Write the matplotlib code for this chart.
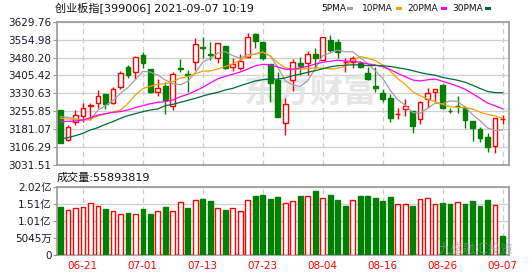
import numpy as np
import pandas as pd
import matplotlib.pyplot as plt
from matplotlib.patches import Rectangle

plt.rcParams['font.family'] = ['DejaVu Sans', 'Noto Sans CJK SC']

# 交易日 2021-06-16 .. 2021-09-07
dates = pd.bdate_range("2021-06-16", "2021-09-07").strftime("%m-%d").tolist()

opens = [3261.1, 3134.6, 3212.3, 3237.3, 3276.6, 3291.6, 3326.7, 3291.6, 3358.4, 3441.9,
         3421.0, 3490.7, 3432.3, 3335.0, 3361.3, 3279.1, 3435.2, 3411.4, 3462.8, 3526.0,
         3497.0, 3479.5, 3528.3, 3441.9, 3435.2, 3483.6, 3577.2, 3546.3, 3451.9, 3386.4,
         3205.6, 3386.4, 3456.1, 3456.1, 3493.6, 3469.8, 3553.4, 3543.8, 3462.0, 3462.8,
         3456.1, 3417.0, 3362.6, 3330.8, 3312.5, 3244.4, 3265.3, 3257.0, 3223.5, 3305.8,
         3335.0, 3365.5, 3259.0, 3278.6, 3270.7, 3215.2, 3181.8, 3148.4, 3109.6, 3224.0]
highs = [3262.0, 3198.5, 3261.1, 3289.1, 3289.1, 3344.6, 3328.0, 3358.4, 3423.9, 3449.0,
         3487.8, 3504.5, 3434.0, 3389.3, 3379.3, 3421.0, 3472.8, 3428.1, 3560.4, 3567.1,
         3546.3, 3540.8, 3530.0, 3476.9, 3493.6, 3581.3, 3581.3, 3547.0, 3453.0, 3421.0,
         3309.9, 3472.8, 3483.6, 3507.4, 3521.2, 3567.1, 3574.2, 3556.3, 3476.9, 3487.0,
         3465.7, 3441.9, 3441.9, 3348.8, 3326.7, 3268.2, 3305.8, 3259.0, 3298.7, 3354.2,
         3347.5, 3368.4, 3268.2, 3319.6, 3277.8, 3215.2, 3191.4, 3165.1, 3229.0, 3240.2]
lows = [3122.0, 3131.7, 3198.5, 3212.3, 3219.0, 3270.7, 3264.0, 3284.9, 3348.8, 3396.0,
        3390.5, 3437.7, 3333.0, 3320.8, 3243.0, 3261.1, 3421.0, 3337.5, 3428.1, 3476.9,
        3469.8, 3458.6, 3434.0, 3423.9, 3428.1, 3476.9, 3518.7, 3469.8, 3295.8, 3233.0,
        3156.7, 3340.4, 3407.2, 3407.2, 3435.2, 3467.8, 3502.0, 3476.9, 3418.5, 3435.0,
        3436.0, 3386.4, 3335.0, 3293.2, 3212.3, 3222.3, 3236.0, 3163.8, 3203.9, 3270.7,
        3295.8, 3266.5, 3249.8, 3249.8, 3184.7, 3131.7, 3128.8, 3087.0, 3082.8, 3203.9]
closes = [3124.6, 3190.2, 3240.2, 3268.2, 3282.0, 3319.6, 3284.9, 3348.8, 3414.3, 3407.2,
          3482.4, 3458.6, 3335.0, 3351.7, 3302.9, 3410.2, 3432.3, 3406.0, 3535.4, 3519.9,
          3490.7, 3539.6, 3437.7, 3451.9, 3465.7, 3567.1, 3549.2, 3476.9, 3372.6, 3233.1,
          3284.9, 3460.3, 3446.1, 3493.6, 3479.5, 3564.6, 3511.6, 3504.5, 3463.0, 3476.9,
          3441.9, 3390.5, 3351.7, 3305.8, 3226.5, 3246.5, 3277.8, 3195.6, 3293.2, 3330.8,
          3347.5, 3268.2, 3257.3, 3277.0, 3218.1, 3187.2, 3142.9, 3105.4, 3226.5, 3225.0]
# 成交量 (万)
volumes = [14200, 13320, 13810, 14200, 15290, 14490, 13610, 13020, 12140, 12440,
           12140, 13610, 12240, 12930, 14200, 12930, 15670, 13900, 16170, 16550,
           15960, 13810, 13320, 13810, 12930, 16170, 17430, 17730, 16550, 17140,
           15290, 15880, 17430, 17430, 18900, 16760, 17730, 16260, 14490, 16170,
           17430, 17430, 16840, 15960, 17140, 14990, 14990, 14490, 16460, 16760,
           14990, 15380, 15080, 15580, 15080, 15960, 14490, 16260, 14790, 5589]

# 均线起始段 (窗口之前的数据不在图内, 直接读图)
ma5_head = [3233.3, 3230.5, 3223.5, 3219.3]
ma10_head = [3226.3, 3223.5, 3222.1, 3219.3, 3222.0, 3236.0, 3245.0, 3252.0, 3261.1]
ma20_head = [3212.4, 3213.8, 3215.2, 3219.3, 3229.1, 3240.2, 3245.8, 3251.3, 3254.1, 3261.1,
             3270.8, 3279.2, 3287.5, 3293.1, 3295.9, 3302.8, 3316.8, 3326.5, 3340.4]
ma30_head = [3140.0, 3145.6, 3153.9, 3163.7, 3177.6, 3187.3, 3201.2, 3212.4, 3226.3, 3237.4,
             3245.8, 3254.1, 3261.1, 3265.3, 3279.2, 3284.7, 3293.1, 3301.4, 3309.8, 3319.5,
             3327.9, 3334.8, 3344.6, 3351.5, 3362.7, 3372.4, 3382.2, 3387.7, 3390.5]

price_ticks = [3031.51, 3106.29, 3181.07, 3255.85, 3330.63, 3405.42, 3480.20, 3554.98, 3629.76]
vol_ticks = [0, 5045, 10090, 15135, 20180]
vol_labels = ["0", "5045万", "1.01亿", "1.51亿", "2.02亿"]
label_idx = [3, 11, 19, 27, 35, 43, 51, 59]

RED = "#ff0000"
GREEN = "#008000"
ma_colors = ["#a0a0a0", "#f5a000", "#ff00ff", "#006a36"]
ma_names = ["5PMA", "10PMA", "20PMA", "30PMA"]

o = np.array(opens); h = np.array(highs); l = np.array(lows); c = np.array(closes)
n = len(c)
x = np.arange(n)

def moving(head, win):
    s = pd.Series(c).rolling(win).mean().to_numpy()
    s[:len(head)] = head
    return s

mas = [moving(ma5_head, 5), moving(ma10_head, 10), moving(ma20_head, 20), moving(ma30_head, 30)]

W, H = 530, 276
fig = plt.figure(figsize=(W / 100, H / 100), dpi=100)
ax = fig.add_axes([57 / W, 1 - 165 / H, 452 / W, 143.3 / H])
axv = fig.add_axes([57 / W, 1 - 255.3 / H, 452 / W, 68.6 / H])

bw = 0.62
for i in range(n):
    up = c[i] >= o[i]
    col = RED if up else GREEN
    top, bot = max(o[i], c[i]), min(o[i], c[i])
    ax.plot([i, i], [top, h[i]], color=col, lw=1.0, zorder=2, solid_capstyle="butt")
    ax.plot([i, i], [l[i], bot], color=col, lw=1.0, zorder=2, solid_capstyle="butt")
    hgt = max(top - bot, 0.8)
    ax.add_patch(Rectangle((i - bw / 2, bot), bw, hgt, facecolor="white" if up else col,
                           edgecolor=col, lw=1.0, zorder=3))
    # 量柱颜色按与前一日收盘比较
    vup = up if i == 0 else c[i] >= c[i - 1]
    vcol = RED if vup else GREEN
    axv.add_patch(Rectangle((i - bw / 2, 0), bw, volumes[i], facecolor="white" if vup else vcol,
                            edgecolor=vcol, lw=1.0, zorder=3))

for m, col in zip(mas, ma_colors):
    ax.plot(x, m, color=col, lw=0.9, zorder=4)

ax.text(0.56, 0.5, "东方财富", transform=ax.transAxes, fontsize=24, color="#e6e6e6",
        ha="center", va="center", fontweight="bold", zorder=1,
        family=["Noto Sans CJK SC"])

for a in (ax, axv):
    a.set_xlim(-0.45, 59.85)
    for s in a.spines.values():
        s.set_color("#999999")
        s.set_linewidth(1.2)
    a.set_axisbelow(True)
    for xi in label_idx:
        a.axvline(xi, color="#cccccc", lw=0.9, ls=(0, (4, 3)), zorder=0)
    a.tick_params(axis="y", length=3, width=0.8, color="#999999", labelsize=7.5,
                  labelcolor="#1a1a2a", pad=1)

ax.set_ylim(price_ticks[0], price_ticks[-1])
ax.set_yticks(price_ticks)
ax.set_yticklabels([f"{v:.2f}" for v in price_ticks])
ax.grid(axis="y", color="#d0d0d0", lw=0.9)
ax.set_xticks([])

axv.set_ylim(0, vol_ticks[-1])
axv.set_yticks(vol_ticks)
axv.set_yticklabels(vol_labels)
axv.grid(axis="y", color="#d0d0d0", lw=0.9)
axv.set_xticks(label_idx)
axv.set_xticklabels([dates[i] for i in label_idx], color=RED, fontsize=7.5)
axv.tick_params(axis="x", length=0, pad=4)

fig.text(55 / W, 1 - 8 / H, "创业板指[399006] 2021-09-07 10:19", fontsize=8,
         va="center", ha="left", color="#111111")
fig.text(57 / W, 1 - 177.5 / H, "成交量:55893819", fontsize=8,
         va="center", ha="left", color="#111111")

leg_x = [321, 362, 407, 452]
sq_x = [347, 396, 441, 485]
for name, col, tx, sx in zip(ma_names, ma_colors, leg_x, sq_x):
    fig.text(tx / W, 1 - 8.5 / H, name, fontsize=6.5, va="center", ha="left", color="#111111")
    fig.patches.append(Rectangle((sx / W, 1 - 10 / H), 6 / W, 3 / H, facecolor=col,
                                 edgecolor="none", transform=fig.transFigure, figure=fig))

fig.text(476 / W, 1 - 249 / H, "九盛融汇投资", fontsize=9, va="center", ha="center",
         color="#9a9a9a", alpha=0.6)

fig.savefig("out.png", dpi=100)
